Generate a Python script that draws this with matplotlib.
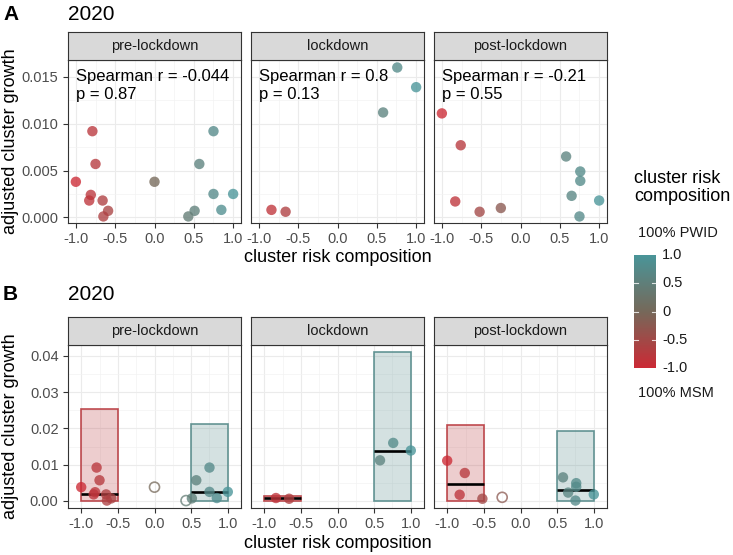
import numpy as np
import matplotlib
matplotlib.use('Agg')
import matplotlib.pyplot as plt
from matplotlib.colors import LinearSegmentedColormap, Normalize
from matplotlib.patches import Rectangle
from matplotlib.ticker import MultipleLocator, FixedLocator

plt.rcParams.update({
    'font.family': ['Liberation Sans', 'DejaVu Sans'],
    'axes.unicode_minus': False,
})

W, H = 733, 555

# ---- data ----
facets = ['pre-lockdown', 'lockdown', 'post-lockdown']
spearman_r = ['-0.044', '0.8', '-0.21']
spearman_p = ['0.87', '0.13', '0.55']

comp_pre = [-1.0, -0.79, -0.75, -0.81, -0.83, -0.66, -0.59, -0.65,
            0.0, 0.75, 0.57, 0.75, 1.0, 0.85, 0.51, 0.43]
growth_pre = [0.0038, 0.0092, 0.0057, 0.0024, 0.0018, 0.0018, 0.0007, 0.0001,
              0.0038, 0.0092, 0.0057, 0.0025, 0.0025, 0.0008, 0.0007, 0.0001]
comp_lock = [-0.84, -0.66, 0.58, 0.76, 1.0]
growth_lock = [0.0008, 0.0006, 0.0112, 0.0160, 0.0139]
comp_post = [-1.0, -0.76, -0.83, -0.52, -0.25, 0.58, 0.76, 0.76, 0.65, 0.75, 1.0]
growth_post = [0.0111, 0.0077, 0.0017, 0.0006, 0.0010, 0.0065, 0.0049, 0.0039,
               0.0023, 0.0001, 0.0018]
comp = [comp_pre, comp_lock, comp_post]
growth = [growth_pre, growth_lock, growth_post]

# panel B summary boxes: MSM group (-1 to -0.5) and PWID group (0.5 to 1)
group_lo = [-1.0, 0.5]
group_hi = [-0.5, 1.0]
box_upper = [[0.0254, 0.0213], [0.0013, 0.0410], [0.0210, 0.0192]]
box_median = [[0.0020, 0.0026], [0.0007, 0.0139], [0.0047, 0.0030]]

cb_ticks = [1.0, 0.5, 0.0, -0.5, -1.0]
cb_labels = ['1.0', '0.5', '0', '-0.5', '-1.0']

cmap = LinearSegmentedColormap.from_list('risk', ['#CC2A35', '#76695A', '#4A9599'])
norm = Normalize(-1, 1)

fig = plt.figure(figsize=(W / 100, H / 100), dpi=100)


def px_axes(l, t, r, b):
    return fig.add_axes([l / W, 1 - b / H, (r - l) / W, (b - t) / H])


panel_x = [(68, 241), (251, 424), (434, 607)]
DARK = '#333333'


def style_panel(ax, first, ymajor, yfmt, yticks):
    ax.set_facecolor('white')
    for s in ax.spines.values():
        s.set_color(DARK)
        s.set_linewidth(0.8)
    ax.xaxis.set_major_locator(FixedLocator([-1.0, -0.5, 0.0, 0.5, 1.0]))
    ax.xaxis.set_minor_locator(FixedLocator([-0.75, -0.25, 0.25, 0.75]))
    ax.yaxis.set_major_locator(FixedLocator(yticks))
    ax.yaxis.set_minor_locator(MultipleLocator(ymajor / 2))
    ax.grid(which='major', color='#EBEBEB', lw=0.8)
    ax.grid(which='minor', color='#F2F2F2', lw=0.45)
    ax.set_axisbelow(True)
    ax.set_xticklabels(['-1.0', '-0.5', '0.0', '0.5', '1.0'])
    ax.tick_params(which='major', length=3.3, width=0.8, color=DARK,
                   labelsize=10.5, labelcolor='#4D4D4D', pad=3.5)
    ax.tick_params(which='minor', length=0)
    if first:
        ax.set_yticklabels([yfmt.format(v) for v in yticks])
    else:
        ax.tick_params(axis='y', which='major', length=0, labelleft=False)


def strip(l, r, t, b, label):
    sax = px_axes(l, t, r, b)
    sax.set_facecolor('#D9D9D9')
    sax.set_xticks([]); sax.set_yticks([])
    for s in sax.spines.values():
        s.set_color(DARK)
        s.set_linewidth(0.8)
    sax.text(0.5, 0.5, label, ha='center', va='center', fontsize=10.5,
             color='#1A1A1A', transform=sax.transAxes)


# ---------- Panel A ----------
for i, (l, r) in enumerate(panel_x):
    ax = px_axes(l, 60, r, 223)
    x = np.array(comp[i]); y = np.array(growth[i])
    ax.scatter(x, y, c=x, cmap=cmap, norm=norm, s=56, alpha=0.78,
               edgecolors='none', zorder=3)
    ax.set_xlim(-1.1, 1.1)
    ax.set_ylim(-0.0006, 0.0168)
    style_panel(ax, i == 0, 0.005, '{:.3f}', [0.0, 0.005, 0.010, 0.015])
    ax.text(-1.0, 0.0150, f'Spearman r = {spearman_r[i]}', ha='left',
            va='center', fontsize=12, color='black', zorder=4)
    ax.text(-1.0, 0.0131, f'p = {spearman_p[i]}', ha='left',
            va='center', fontsize=12, color='black', zorder=4)
    strip(l, r, 32, 60, facets[i])

fig.text(3 / W, 1 - 14 / H, 'A', fontsize=15, fontweight='bold', va='center')
fig.text(68 / W, 1 - 14 / H, '2020', fontsize=15, va='center')
fig.text(11 / W, 1 - 141 / H, 'adjusted cluster growth', rotation=90,
         fontsize=13, ha='center', va='center')
fig.text(337.5 / W, 1 - 258 / H, 'cluster risk composition', fontsize=13,
         ha='center', va='center')

# ---------- Panel B ----------
for i, (l, r) in enumerate(panel_x):
    ax = px_axes(l, 345, r, 508)
    x = np.array(comp[i]); y = np.array(growth[i])
    for g in range(2):
        inside = (x >= group_lo[g]) & (x <= group_hi[g])
        col = cmap(norm(x[inside].mean()))
        ax.add_patch(Rectangle((group_lo[g], 0), group_hi[g] - group_lo[g],
                               box_upper[i][g], facecolor=col, alpha=0.25,
                               edgecolor='none', zorder=2))
        ax.add_patch(Rectangle((group_lo[g], 0), group_hi[g] - group_lo[g],
                               box_upper[i][g], facecolor='none',
                               edgecolor=col, lw=1.2, alpha=0.9, zorder=2.5))
        ax.plot([group_lo[g], group_hi[g]], [box_median[i][g]] * 2,
                color='black', lw=1.9, solid_capstyle='butt', zorder=3)
    mixed = np.abs(x) < 0.5
    ax.scatter(x[~mixed], y[~mixed], c=x[~mixed], cmap=cmap, norm=norm,
               s=56, alpha=0.78, edgecolors='none', zorder=4)
    ax.scatter(x[mixed], y[mixed], facecolors='none',
               edgecolors=[cmap(norm(v)) for v in x[mixed]], s=52,
               linewidths=1.2, alpha=0.75, zorder=4)
    ax.set_xlim(-1.18, 1.18)
    ax.set_ylim(-0.00195, 0.043)
    style_panel(ax, i == 0, 0.01, '{:.2f}', [0.0, 0.01, 0.02, 0.03, 0.04])
    strip(l, r, 317, 345, facets[i])

fig.text(3 / W, 1 - 295 / H, 'B', fontsize=15, fontweight='bold', va='center')
fig.text(68 / W, 1 - 295 / H, '2020', fontsize=15, va='center')
fig.text(11 / W, 1 - 426 / H, 'adjusted cluster growth', rotation=90,
         fontsize=13, ha='center', va='center')
fig.text(337.5 / W, 1 - 543 / H, 'cluster risk composition', fontsize=13,
         ha='center', va='center')

# ---------- legend ----------
fig.text(634 / W, 1 - 178 / H, 'cluster risk', fontsize=13, va='center')
fig.text(634 / W, 1 - 197 / H, 'composition', fontsize=13, va='center')
fig.text(638 / W, 1 - 233 / H, '100% PWID', fontsize=10.5, va='center',
         color='#1A1A1A')
fig.text(638 / W, 1 - 393 / H, '100% MSM', fontsize=10.5, va='center',
         color='#1A1A1A')

cax = px_axes(634, 255, 656, 368)
grad = np.linspace(-1, 1, 256).reshape(-1, 1)
cax.imshow(grad, cmap=cmap, norm=norm, aspect='auto', origin='lower',
           extent=[0, 1, -1, 1])
cax.set_xlim(0, 1); cax.set_ylim(-1, 1)
cax.set_xticks([]); cax.set_yticks([])
for s in cax.spines.values():
    s.set_visible(False)
for v, lab in zip(cb_ticks, cb_labels):
    if abs(v) < 1:
        cax.plot([0, 0.2], [v, v], color='white', lw=0.8, alpha=0.8)
        cax.plot([0.8, 1], [v, v], color='white', lw=0.8, alpha=0.8)
    ypix = 255 + (1 - v) / 2 * (368 - 255)
    fig.text(662 / W, 1 - ypix / H, lab, fontsize=10.5, va='center',
             color='#1A1A1A')

fig.savefig('out.png', dpi=100)
